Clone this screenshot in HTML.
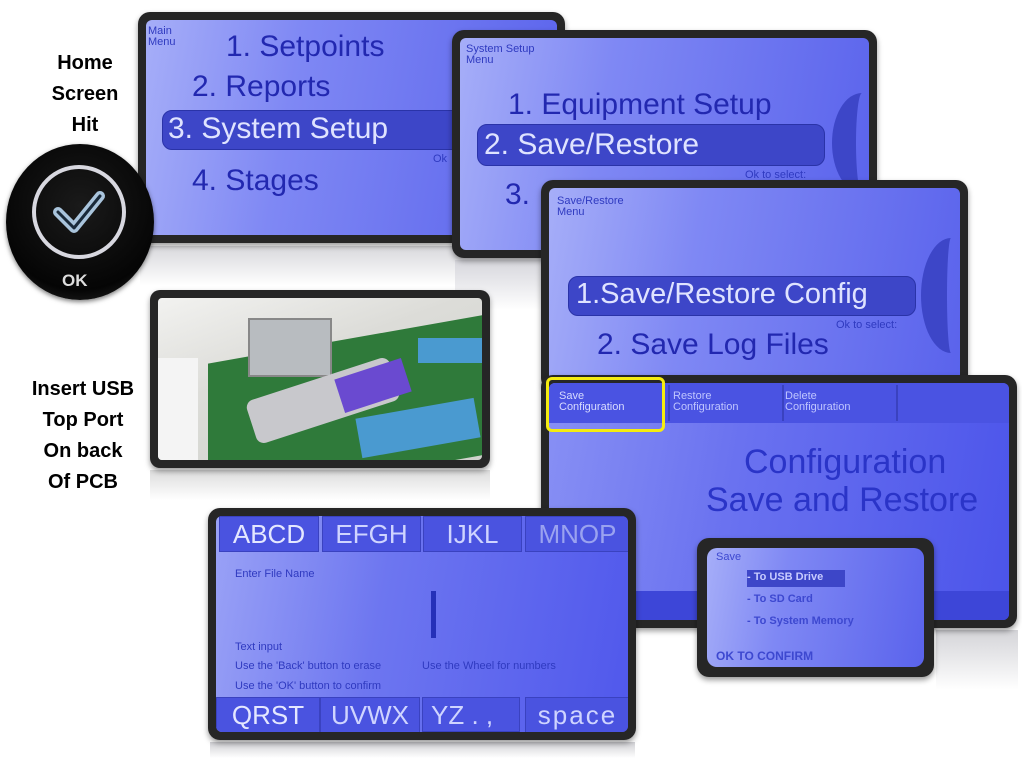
<!DOCTYPE html>
<html><head><meta charset="utf-8"><style>
body{margin:0;width:1022px;height:758px;background:#fff;position:relative;overflow:hidden;font-family:"Liberation Sans",sans-serif}
.a{position:absolute}
.scr{position:absolute;background:#262626;border-radius:12px;box-shadow:0 3px 6px rgba(0,0,0,.4)}
.lcd{position:absolute;left:8px;top:8px;right:8px;bottom:8px;border-radius:6px;background:linear-gradient(100deg,#a6aef8 0%,#7f88f4 35%,#5a63ec 100%);overflow:hidden}
.t{position:absolute;color:#2228b0;white-space:nowrap;line-height:1}
.hl{position:absolute;background:#3d46c8;border-radius:10px;border:1px solid #2a33a8}
.w{color:#dfe3ff}
.sm{font-size:11px;color:#2f3ac0}
.tab{position:absolute;background:#4a53e0;border:1px solid #3a42c0;color:#cfd4ff;font-size:26px;text-align:center;line-height:34px}
.lbl{position:absolute;font-family:"Liberation Sans",sans-serif;font-weight:bold;font-size:20px;text-align:center;color:#000;line-height:31px}
</style></head><body>

<div class="a" style="left:140px;top:246px;width:425px;height:40px;background:linear-gradient(#d8d8dc,#fff)"></div>
<div class="a" style="left:455px;top:260px;width:95px;height:50px;background:linear-gradient(#d6d6dc,#fff)"></div>
<div class="a" style="left:150px;top:470px;width:340px;height:30px;background:linear-gradient(#dcdcdc,#fff)"></div>
<div class="a" style="left:210px;top:742px;width:425px;height:16px;background:linear-gradient(#d0d0d4,#fff)"></div>
<div class="a" style="left:936px;top:630px;width:82px;height:60px;background:linear-gradient(#d4d4d8,#fff)"></div>

<div class="lbl" style="left:20px;top:48px;width:130px">Home<br>Screen<br>Hit</div>
<div class="lbl" style="left:8px;top:374px;width:150px">Insert USB<br>Top Port<br>On back<br>Of PCB</div>

<div class="scr" style="left:138px;top:12px;width:427px;height:231px"><div class="lcd">
<div class="t sm" style="left:2px;top:6px">Main<br>Menu</div>
<div class="t" style="left:80px;top:12px;font-size:30px">1. Setpoints</div>
<div class="t" style="left:46px;top:52px;font-size:30px">2. Reports</div>
<div class="hl" style="left:16px;top:90px;width:420px;height:38px"></div>
<div class="t w" style="left:22px;top:94px;font-size:30px">3. System Setup</div>
<div class="t sm" style="left:287px;top:134px">Ok</div>
<div class="t" style="left:46px;top:146px;font-size:30px">4. Stages</div>
</div></div>

<div class="a" style="left:6px;top:144px;width:148px;height:156px;border-radius:50%;background:radial-gradient(circle at 50% 40%,#1a1a1a,#050505 70%,#333 100%);box-shadow:0 2px 5px rgba(0,0,0,.5)"></div>
<div class="a" style="left:32px;top:165px;width:94px;height:94px;border-radius:50%;border:4px solid #d8d8e0;box-sizing:border-box"></div>
<svg class="a" style="left:50px;top:188px" width="60" height="50"><polyline points="8,24 24,40 50,8" fill="none" stroke="#a9c4dc" stroke-width="10" stroke-linecap="round" stroke-linejoin="round"/><polyline points="8,24 24,40 50,8" fill="none" stroke="#1a2a3a" stroke-width="3" stroke-linecap="round" stroke-linejoin="round"/></svg>
<div class="a" style="left:62px;top:271px;color:#ddd;font-size:17px;font-weight:bold">OK</div>

<div class="scr" style="left:150px;top:290px;width:340px;height:178px;border-radius:10px"><div class="a" style="left:8px;top:8px;right:8px;bottom:8px;overflow:hidden;border-radius:4px;background:linear-gradient(160deg,#f2f2f0 0%,#dcdcd8 40%,#cfd2cc 100%)">
<div class="a" style="left:50px;top:40px;width:290px;height:140px;background:#2f7a3a;transform:skewY(-10deg)"></div>
<div class="a" style="left:90px;top:20px;width:80px;height:55px;background:#b8bcc0;border:2px solid #888"></div>
<div class="a" style="left:90px;top:80px;width:150px;height:45px;background:#c8c8cc;border-radius:8px;transform:rotate(-18deg)"></div>
<div class="a" style="left:180px;top:70px;width:70px;height:35px;background:#6a4ad0;transform:rotate(-18deg)"></div>
<div class="a" style="left:200px;top:110px;width:120px;height:40px;background:#4a9ad0;transform:rotate(-10deg)"></div>
<div class="a" style="left:260px;top:40px;width:70px;height:25px;background:#4a9ad0"></div>
<div class="a" style="left:0;top:60px;width:40px;height:110px;background:#f4f4f4"></div>
</div></div>

<div class="scr" style="left:452px;top:30px;width:425px;height:228px"><div class="lcd">
<div class="t sm" style="left:6px;top:6px">System Setup<br>Menu</div>
<div class="t" style="left:48px;top:52px;font-size:30px">1. Equipment Setup</div>
<div class="hl" style="left:17px;top:86px;width:346px;height:40px"></div>
<div class="t w" style="left:24px;top:92px;font-size:30px">2. Save/Restore</div>
<div class="t sm" style="left:285px;top:132px">Ok to select:</div>
<div class="t" style="left:45px;top:142px;font-size:30px">3.</div>
<div class="a" style="left:372px;top:55px;width:60px;height:100px;border-left:24px solid #3d46c8;border-radius:50%;box-sizing:border-box"></div>
</div></div>

<div class="scr" style="left:541px;top:180px;width:427px;height:210px"><div class="lcd">
<div class="t sm" style="left:8px;top:8px">Save/Restore<br>Menu</div>
<div class="hl" style="left:19px;top:88px;width:346px;height:38px"></div>
<div class="t w" style="left:27px;top:92px;font-size:29px">1.Save/Restore Config</div>
<div class="t sm" style="left:287px;top:132px">Ok to select:</div>
<div class="t" style="left:48px;top:142px;font-size:30px">2. Save Log Files</div>
<div class="a" style="left:372px;top:50px;width:60px;height:115px;border-left:26px solid #3d46c8;border-radius:50%;box-sizing:border-box"></div>
</div></div>

<div class="scr" style="left:541px;top:375px;width:476px;height:253px"><div class="lcd" style="background:linear-gradient(100deg,#8890f4 0%,#6a72f0 40%,#4b54ea 100%)">
<div class="a" style="left:0;top:0;right:0;height:40px;background:#4a53e2"></div>
<div class="t sm" style="left:10px;top:8px;color:#d8dcff">Save<br>Configuration</div>
<div class="a" style="left:119px;top:2px;width:2px;height:36px;background:#3a42c0"></div>
<div class="t sm" style="left:124px;top:8px;color:#c0c6ff">Restore<br>Configuration</div>
<div class="a" style="left:233px;top:2px;width:2px;height:36px;background:#3a42c0"></div>
<div class="t sm" style="left:236px;top:8px;color:#c0c6ff">Delete<br>Configuration</div>
<div class="a" style="left:347px;top:2px;width:2px;height:36px;background:#3a42c0"></div>
<div class="t" style="left:195px;top:62px;font-size:34px;color:#2a34c8">Configuration</div>
<div class="t" style="left:157px;top:100px;font-size:34px;color:#2a34c8">Save and Restore</div>
<div class="a" style="left:0;top:208px;right:0;height:40px;background:#3d46d8"></div>
</div></div>
<div class="a" style="left:546px;top:377px;width:119px;height:55px;border:3px solid #f5ec10;border-radius:6px;box-sizing:border-box"></div>

<div class="scr" style="left:208px;top:508px;width:428px;height:232px"><div class="lcd" style="background:linear-gradient(100deg,#9aa2f6 0%,#6d76f0 40%,#5058ec 100%)">
<div class="tab" style="left:3px;top:0;width:98px;height:34px;color:#e4e7ff">ABCD</div>
<div class="tab" style="left:106px;top:0;width:97px;height:34px">EFGH</div>
<div class="tab" style="left:207px;top:0;width:97px;height:34px">IJKL</div>
<div class="tab" style="left:309px;top:0;width:103px;height:34px;color:#9aa2f0">MNOP</div>
<div class="t sm" style="left:19px;top:53px">Enter File Name</div>
<div class="a" style="left:215px;top:75px;width:5px;height:47px;background:#2530b8"></div>
<div class="t sm" style="left:19px;top:126px">Text input</div>
<div class="t sm" style="left:19px;top:145px">Use the 'Back' button to erase</div>
<div class="t sm" style="left:206px;top:145px">Use the Wheel for numbers</div>
<div class="t sm" style="left:19px;top:165px">Use the 'OK' button to confirm</div>
<div class="tab" style="left:0;top:181px;width:102px;height:35px;color:#e4e7ff">QRST</div>
<div class="tab" style="left:104px;top:181px;width:98px;height:35px">UVWX</div>
<div class="tab" style="left:206px;top:181px;width:98px;height:35px;text-align:left;padding-left:8px;box-sizing:border-box">YZ . ,</div>
<div class="tab" style="left:309px;top:181px;width:103px;height:35px;letter-spacing:2px">space</div>
</div></div>

<div class="scr" style="left:697px;top:538px;width:237px;height:139px"><div class="lcd" style="left:10px;top:10px;right:10px;bottom:10px;border-radius:10px">
<div class="t sm" style="left:9px;top:4px;color:#3d48d0">Save</div>
<div class="a" style="left:40px;top:22px;width:98px;height:17px;background:#3d46c8"></div>
<div class="t sm" style="left:40px;top:24px;color:#c8ccff;font-weight:bold">- To USB Drive</div>
<div class="t sm" style="left:40px;top:46px;color:#3d48d0;font-weight:bold">- To SD Card</div>
<div class="t sm" style="left:40px;top:68px;color:#3d48d0;font-weight:bold">- To System Memory</div>
<div class="t sm" style="left:9px;top:102px;color:#3d48d0;font-size:12px;font-weight:bold">OK TO CONFIRM</div>
</div></div>

</body></html>
